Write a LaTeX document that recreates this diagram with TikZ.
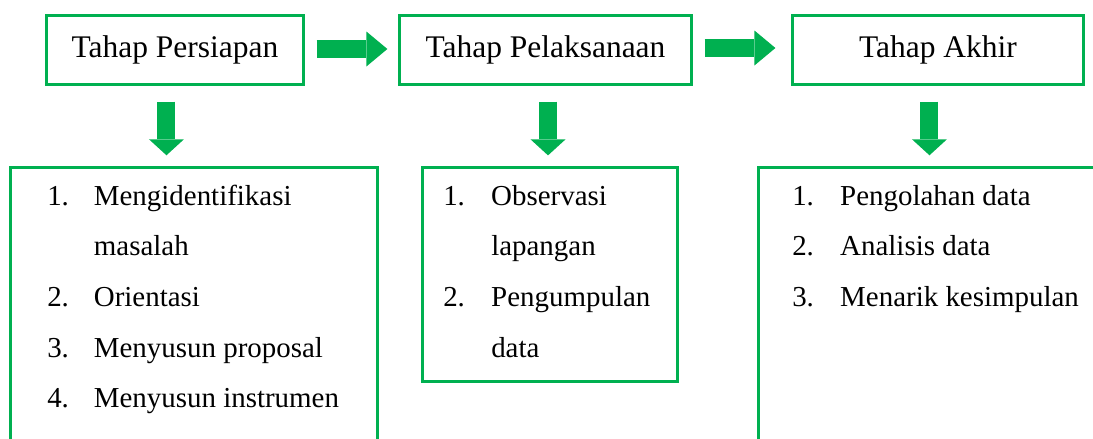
\documentclass[tikz,border=0pt]{standalone}
\usepackage{fontspec}
\setmainfont{Liberation Serif}
\usetikzlibrary{arrows.meta,calc}
\definecolor{wordgreen}{HTML}{00B050}

\begin{document}
\begin{tikzpicture}[x=0.75pt,y=-0.75pt,
        stagebox/.style={draw=wordgreen,line width=2.4pt,inner sep=0pt,font=\fontsize{23.6}{27}\selectfont},
        listbox/.style={draw=wordgreen,line width=2.4pt,inner sep=0pt},
        listtext/.style={anchor=base west,inner sep=0pt,font=\fontsize{21.7}{38}\selectfont},
        rightarrow/.style={draw=wordgreen,line width=13.5pt,-{Triangle[width=26.25pt,length=15.75pt,line width=0pt]}},
        downarrow/.style={draw=wordgreen,line width=13.5pt,-{Triangle[width=26.25pt,length=12pt,line width=0pt]}}]
        \useasboundingbox (0,0) rectangle (1093,439);
        \clip (0,0) rectangle (1093,439);

        % tahap
        \node[stagebox,minimum width=192.75pt,minimum height=51.75pt] (persiapan) at (175,50) {Tahap Persiapan};
        \node[stagebox,minimum width=219pt,minimum height=51.75pt] (pelaksanaan) at (545.5,50) {Tahap Pelaksanaan};
        \node[stagebox,minimum width=218.25pt,minimum height=51.75pt] (akhir) at (938,50) {Tahap Akhir};

        % kegiatan
        \node[listbox,minimum width=275.25pt,minimum height=227pt] (kegiatanA) at (194,318.75) {};
        \node[listbox,minimum width=191.25pt,minimum height=160.5pt] (kegiatanB) at (550,274.5) {};
        \node[listbox,minimum width=271pt,minimum height=227pt] (kegiatanC) at (939.25,318.75) {};

        \node[listtext] (listA) at (47,205) {\begin{tabular}[t]{@{}p{35pt}@{}l@{}}
            1. & Mengidentifikasi\\ & masalah\\ 2. & Orientasi\\ 3. & Menyusun proposal\\ 4. & Menyusun instrumen
        \end{tabular}};
        \node[listtext] (listB) at (443,205) {\begin{tabular}[t]{@{}p{36pt}@{}l@{}}
            1. & Observasi\\ & lapangan\\ 2. & Pengumpulan\\ & data
        \end{tabular}};
        \node[listtext] (listC) at (792,205) {\begin{tabular}[t]{@{}p{36pt}@{}l@{}}
            1. & Pengolahan data\\ 2. & Analisis data\\ 3. & Menarik kesimpulan
        \end{tabular}};

        % panah
        \draw[rightarrow] ($(persiapan.east)+(8.6pt,0.75pt)$) -- ($(pelaksanaan.west)+(-7.9pt,0.75pt)$);
        \draw[rightarrow] ($(pelaksanaan.east)+(8.6pt,1.5pt)$) -- ($(akhir.west)+(-11.6pt,1.5pt)$);
        \draw[downarrow] ($(persiapan.south)+(-6.4pt,-11.6pt)$) -- ($(persiapan.south |- kegiatanA.north)+(-6.4pt,7.9pt)$);
        \draw[downarrow] ($(pelaksanaan.south)+(1.9pt,-11.6pt)$) -- ($(pelaksanaan.south |- kegiatanB.north)+(1.9pt,7.9pt)$);
        \draw[downarrow] ($(akhir.south)+(-6.4pt,-11.6pt)$) -- ($(akhir.south |- kegiatanC.north)+(-6.4pt,7.9pt)$);
    \end{tikzpicture}
\end{document}
